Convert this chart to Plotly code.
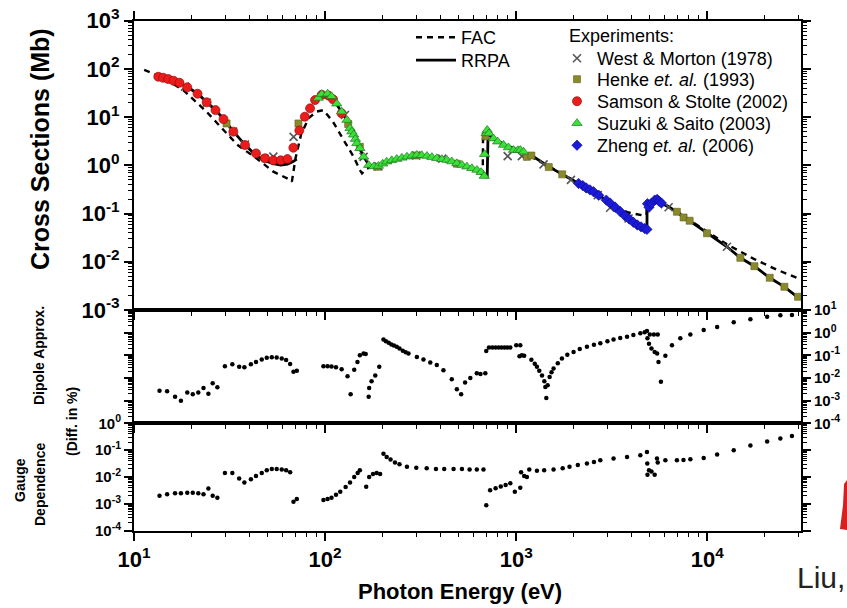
import plotly.graph_objects as go

# ---------------- data ----------------
# RRPA theory (solid line); None marks a break in the curve
rrpa_E = [13.4, 15, 17, 19, 21.5, 24, 26.7, 29.4, 33, 38, 43.5, 48.5, 53.6, 58.6, 63.5, 68, 71,
          None,
          92, 100, 110, 122, 130, 135, 141, 147, 152, 159, 169, 180, 190, 210, 237, 268, 302, 341,
          384, 434, 489, 552, 623, 690, 705, 712, 760, 858, 968, 1090, 1233, 1494, 1734, 2120,
          2540, 2960, 3870, 4830, 4840, 4950, 5460, 5750, 6930, 7510, 8080, 9960, 12660, 14880,
          17630, 21200, 25300, 30000]
rrpa_s = [70, 62, 53, 42, 31, 20.5, 14, 9.2, 5.1, 2.7, 1.6, 1.25, 1.08, 1.01, 1.06, 1.2, 1.35,
          None,
          26, 29.5, 24, 13, 8.7, 6, 4.3, 2.9, 2.2, 1.5, 1.05, 0.93, 0.95, 1.15, 1.33, 1.48, 1.6, 1.55,
          1.42, 1.3, 1.12, 0.95, 0.78, 0.58, 0.58, 4.6, 3.6, 2.64, 2.1, 1.8, 1.5, 0.92, 0.65, 0.42,
          0.28, 0.19, 0.085, 0.047, 0.19, 0.135, 0.197, 0.165, 0.109, 0.083, 0.071, 0.039, 0.0205, 0.0121,
          0.0081, 0.00466, 0.00303, 0.00178]

# FAC theory (dashed line)
fac_E = [11.3, 14, 18.1, 24, 29.4, 35, 43.7, 53.6, 65.6, 67, 70, 75, 82, 90, 98, 110, 125, 141,
         152, 156, 165, 175, 190, 210, 237, 268, 302, 341, 384, 434, 489, 552, 623, 668, 670,
         760, 860, 970, 1090, 1494, 2120, 3230, 3870, 4700, 4810, 4830, 4950, 5460, 6930, 8830,
         12670, 17500, 23000, 30000]
fac_s = [95, 68, 36.5, 12.9, 5.4, 2.6, 1.4, 0.74, 0.5, 0.46, 1.4, 4.5, 9.5, 13, 14, 8, 3.35, 1.5,
         0.8, 0.68, 0.85, 0.95, 0.95, 1.15, 1.33, 1.48, 1.6, 1.55, 1.42, 1.3, 1.12, 0.95, 0.78, 0.62, 3.5,
         3.5, 2.8, 2.2, 1.85, 0.93, 0.43, 0.138, 0.105, 0.09, 0.093, 0.19, 0.14, 0.197, 0.11, 0.058,
         0.023, 0.0115, 0.0069, 0.0045]

# Experiments
west_E = [18.5, 24, 33, 38.1, 53.6, 68.4, 127, 159, 190, 300, 410, 902, 1070, 1390, 1933,
          2670, 3100, 3870, 6270, 12660]
west_s = [43, 20, 5.0, 2.7, 1.52, 3.9, 11.1, 1.5, 0.95, 1.6, 1.38, 1.55, 1.55, 1.05, 0.50,
          0.242, 0.132, 0.079, 0.135, 0.0205]

henke_E = [30.5, 48.5, 72.5, 132, 152, 187, 300, 489, 690, 1137, 1200, 1480, 1740, 6930,
           7510, 8080, 9960, 14880, 17630, 21200, 25300, 29800]
henke_s = [7.4, 1.4, 7.4, 7.2, 2.43, 0.93, 1.6, 1.08, 4.0, 1.5, 1.6, 0.92, 0.65, 0.109,
           0.083, 0.071, 0.039, 0.0121, 0.0081, 0.00466, 0.00303, 0.00188]

samson_E = [13.4, 14.2, 15.1, 16.1, 17.3, 19.0, 21.5, 24.0, 26.7, 29.4, 33.1, 38.1, 43.5,
            48.5, 53.6, 58.6, 63.5, 68.2, 73.3, 78.3, 83.4, 88.6, 96, 104, 110, 122]
samson_s = [68.9, 65.6, 61.7, 56.9, 51.7, 41.5, 30.6, 20.3, 14.0, 9.1, 5.0, 2.64, 1.77,
            1.40, 1.27, 1.27, 1.35, 2.32, 5.3, 10.2, 15.2, 22.6, 29, 28, 23.4, 12.0]

suzuki_E = [92, 96, 103, 108, 115, 122, 130, 135, 138, 141, 144, 146.5, 152, 159, 169, 180,
            190, 200, 210, 223, 237, 252, 268, 285, 302, 320, 341, 362, 384, 408, 434, 460,
            489, 520, 552, 586, 623, 655, 680, 683, 697, 705, 720, 760, 800, 858, 910, 968,
            1020, 1050, 1091]
suzuki_s = [25, 30, 30.5, 27, 19, 13, 8.7, 5.9, 5.0, 4.3, 3.5, 2.86, 2.25, 1.51, 1.01, 0.95,
            0.97, 1.08, 1.19, 1.27, 1.35, 1.43, 1.51, 1.58, 1.64, 1.62, 1.56, 1.48, 1.40, 1.34, 1.29, 1.2,
            1.10, 1.02, 0.94, 0.87, 0.80, 0.72, 0.60, 1.7, 4.6, 5.4, 4.6, 3.6, 3.1, 2.64, 2.35, 2.07,
            2.05, 2.07, 1.92]

zheng_E = [2120, 2230, 2323, 2430, 2540, 2700, 2960, 3100, 3300, 3500, 3700, 3900, 4100,
           4300, 4500, 4700, 4830, 4860, 4950, 5100, 5300, 5460, 5600, 5750]
zheng_s = [0.42, 0.38, 0.34, 0.31, 0.283, 0.24, 0.19, 0.165, 0.135, 0.11, 0.09, 0.077, 0.066,
           0.058, 0.053, 0.049, 0.047, 0.16, 0.135, 0.163, 0.19, 0.197, 0.18, 0.165]

# Dipole approximation (Diff. in %)
dip_E = [13.6, 14.9, 16.4, 17.6, 19.0, 20.3, 21.7, 23.1, 24.5, 25.8, 27.3, 29.9, 32.7, 35.5,
         37.8, 40.9, 43.5, 46.6, 49.5, 52.6, 55.8, 59.3, 62.5, 65.6, 68.3, 71.1,
         98, 103, 108, 114, 122, 131, 136, 142, 147.6, 152, 159, 163, 169, 170, 175, 183, 192,
         202, 208, 215, 222, 229, 237, 245, 255, 264, 273, 302, 327, 355, 384, 416, 460, 489,
         515, 540, 575, 622, 650, 689,
         697, 720, 750, 780, 810, 840, 870, 900, 931, 1000, 1050,
         1040, 1070, 1100, 1200, 1250, 1283, 1320, 1364, 1403, 1420, 1437, 1460, 1495, 1530,
         1568, 1650, 1734, 1850, 1995, 2150, 2344, 2550, 2754, 3000, 3230, 3500, 3800, 4100,
         4460, 4700, 4830, 4860, 4950, 5100, 5300, 5460, 5550, 5715, 5000, 5250, 5500,
         6030, 6530, 7220, 8150, 9570, 11250, 13740, 16800, 20550, 24100, 27700]
dip_v = [2.7e-3, 2.6e-3, 1.5e-3, 9.8e-4, 2.3e-3, 1.9e-3, 2.3e-3, 3.6e-3, 2.0e-3, 5.8e-3, 3.9e-3,
         0.033, 0.040, 0.031, 0.030, 0.040, 0.051, 0.066, 0.078, 0.083, 0.081, 0.072, 0.062, 0.041,
         0.019, 0.021,
         0.033, 0.033, 0.032, 0.030, 0.024, 0.012, 0.0019, 0.023, 0.051, 0.10, 0.12, 0.115, 0.0015,
         0.0036, 0.0072, 0.013, 0.031,
         0.50, 0.42, 0.355, 0.30, 0.27, 0.24, 0.20, 0.16, 0.135, 0.12, 0.085, 0.066, 0.048, 0.037,
         0.022, 0.0089, 0.0032, 0.0019, 0.0063, 0.010, 0.016, 0.015, 0.016,
         0.155, 0.22, 0.22, 0.22, 0.22, 0.22, 0.22, 0.22, 0.22, 0.28, 0.28,
         0.091, 0.10, 0.095, 0.063, 0.042, 0.031, 0.021, 0.013, 0.0072, 0.004, 0.0013, 0.0048, 0.011,
         0.018, 0.026, 0.045, 0.072, 0.105, 0.14, 0.19, 0.24, 0.29, 0.34, 0.42, 0.50, 0.58, 0.66,
         0.79, 0.93, 1.05, 1.17, 0.56, 0.32, 0.20, 0.14, 0.12, 0.051, 0.0068, 0.83, 0.83, 0.83,
         0.095, 0.28, 0.56, 0.83, 1.3, 1.8, 2.9, 3.9, 5.0, 5.8, 6.0]

# Gauge dependence (Diff. in %)
gau_E = [13.6, 14.9, 16.4, 17.6, 19.0, 20.3, 21.7, 23.1, 24.5, 25.8, 27.3, 29.9, 32.7, 35.5,
         37.8, 40.9, 43.5, 46.6, 49.5, 52.6, 55.8, 59.3, 62.5, 65.6, 68.3, 71.1,
         98, 103, 108, 114, 120, 128, 135, 142, 148, 152, 164, 170, 178, 186, 194,
         202, 210, 220, 232, 245, 268, 300, 340, 380, 420, 470, 520, 570, 622, 674,
         697, 730, 780, 830, 880, 931, 983, 1050, 1060, 1100, 1137, 1170, 1283, 1400, 1568, 1750,
         1900, 2100, 2344, 2550, 2754, 3230, 3800, 4460, 4830, 4850, 4860, 4950, 5100, 5300, 5450,
         5500, 6030, 6930, 7500, 8150, 9570, 11250, 13740, 16800, 20550, 24100, 27700]
gau_v = [2.0e-3, 2.3e-3, 2.5e-3, 2.5e-3, 2.6e-3, 2.6e-3, 2.5e-3, 2.3e-3, 3.7e-3, 2.0e-3, 1.7e-3,
         0.014, 0.014, 8.7e-3, 6.2e-3, 8.3e-3, 0.011, 0.014, 0.018, 0.020, 0.020, 0.019, 0.018, 0.015,
         1.2e-3, 1.5e-3,
         1.4e-3, 1.5e-3, 1.7e-3, 2.2e-3, 2.8e-3, 4.2e-3, 6.3e-3, 0.010, 0.014, 0.018, 4.3e-3, 0.010,
         0.013, 0.014, 0.013,
         0.074, 0.056, 0.045, 0.035, 0.030, 0.024, 0.022, 0.021, 0.020, 0.020, 0.020, 0.020, 0.019,
         0.019, 0.019,
         8.9e-4, 3.2e-3, 3.8e-3, 4.4e-3, 5.0e-3, 5.8e-3, 2.8e-3, 4.0e-3, 0.015, 0.011, 0.010, 0.019,
         0.017, 0.018, 0.019, 0.021, 0.024, 0.028, 0.032, 0.036, 0.042, 0.049, 0.056, 0.065, 0.085,
         0.032, 0.012, 0.018, 0.016, 0.012, 0.049, 0.035, 0.042, 0.042, 0.043, 0.046, 0.051, 0.069,
         0.10, 0.15, 0.21, 0.27, 0.34]

x_tickvals = [10, 100, 1000, 10000]
x_ticktext = ["10<sup>1</sup>", "10<sup>2</sup>", "10<sup>3</sup>", "10<sup>4</sup>"]
top_tickvals = [1e-3, 1e-2, 1e-1, 1, 10, 100, 1000]
top_ticktext = ["10<sup>-3</sup>", "10<sup>-2</sup>", "10<sup>-1</sup>", "10<sup>0</sup>",
                "10<sup>1</sup>", "10<sup>2</sup>", "10<sup>3</sup>"]
mid_tickvals = [1e-4, 1e-3, 1e-2, 1e-1, 1, 10]
mid_ticktext = ["10<sup>-4</sup>", "10<sup>-3</sup>", "10<sup>-2</sup>", "10<sup>-1</sup>",
                "10<sup>0</sup>", "10<sup>1</sup>"]
bot_tickvals = [1e-4, 1e-3, 1e-2, 1e-1, 1]
bot_ticktext = ["10<sup>-4</sup>", "10<sup>-3</sup>", "10<sup>-2</sup>", "10<sup>-1</sup>",
                "10<sup>0</sup>"]

# ---------------- figure ----------------
FONT = "Liberation Sans, Arial, sans-serif"
W, H = 847, 608
fig = go.Figure()

fig.add_trace(go.Scatter(x=fac_E, y=fac_s, mode="lines", name="FAC", legend="legend",
                         line=dict(color="black", width=2.4, dash="6px,5px"), xaxis="x", yaxis="y"))
fig.add_trace(go.Scatter(x=rrpa_E, y=rrpa_s, mode="lines", name="RRPA", legend="legend2",
                         connectgaps=False,
                         line=dict(color="black", width=2.8), xaxis="x", yaxis="y"))

fig.add_trace(go.Scatter(x=west_E, y=west_s, mode="markers", name="West & Morton (1978)",
                         legend="legend3", xaxis="x", yaxis="y",
                         marker=dict(symbol="x-thin", size=8, color="#555555",
                                     line=dict(color="#555555", width=1.6))))
fig.add_trace(go.Scatter(x=henke_E, y=henke_s, mode="markers", name="Henke <i>et. al.</i> (1993)",
                         legend="legend4", xaxis="x", yaxis="y",
                         marker=dict(symbol="square", size=7, color="#8a8a2c",
                                     line=dict(color="#5e5e1c", width=0.6))))
fig.add_trace(go.Scatter(x=samson_E, y=samson_s, mode="markers", name="Samson & Stolte (2002)",
                         legend="legend5", xaxis="x", yaxis="y",
                         marker=dict(symbol="circle", size=9, color="#ec1c1c",
                                     line=dict(color="#9a0c0c", width=0.7))))
fig.add_trace(go.Scatter(x=suzuki_E, y=suzuki_s, mode="markers", name="Suzuki & Saito (2003)",
                         legend="legend6", xaxis="x", yaxis="y",
                         marker=dict(symbol="triangle-up", size=9, color="#3be03b",
                                     line=dict(color="#1c7a1c", width=0.7))))
fig.add_trace(go.Scatter(x=zheng_E, y=zheng_s, mode="markers", name="Zheng <i>et. al.</i> (2006)",
                         legend="legend7", xaxis="x", yaxis="y",
                         marker=dict(symbol="diamond", size=8, color="#1a1ad8",
                                     line=dict(color="#0c0c80", width=0.6))))

fig.add_trace(go.Scatter(x=dip_E, y=dip_v, mode="markers", showlegend=False, xaxis="x2", yaxis="y2",
                         marker=dict(symbol="circle", size=4.5, color="black")))
fig.add_trace(go.Scatter(x=gau_E, y=gau_v, mode="markers", showlegend=False, xaxis="x3", yaxis="y3",
                         marker=dict(symbol="circle", size=4.5, color="black")))

XDOM = [134 / W, 801 / W]
XR = [1, 4.49]


def minor_vals(lo, hi):
    return [m * 10 ** e for e in range(lo, hi) for m in range(2, 10)]


common_x = dict(type="log", range=XR, domain=XDOM, showgrid=False, zeroline=False,
                automargin=False,
                linecolor="black", linewidth=2, ticks="outside", ticklen=8, tickwidth=1.6,
                tickcolor="black", tickvals=x_tickvals,
                minor=dict(ticks="outside", ticklen=4, tickwidth=1.2, tickcolor="black",
                           tickvals=minor_vals(1, 5), showgrid=False))
common_y = dict(type="log", showgrid=False, zeroline=False, linecolor="black", linewidth=2,
                automargin=False,
                ticks="outside", ticklen=8, tickwidth=1.6, tickcolor="black", mirror="ticks")


def leg(xpx, ypx, iw=30):
    return dict(x=xpx / W, y=1 - ypx / H, xanchor="left", yanchor="top",
                bgcolor="rgba(0,0,0,0)", font=dict(size=18), itemwidth=iw)


fig.update_layout(
    width=W, height=H, margin=dict(l=0, r=0, t=0, b=0, autoexpand=False),
    paper_bgcolor="white", plot_bgcolor="white",
    font=dict(family=FONT, color="black"),
    xaxis=dict(**common_x, anchor="y", mirror="ticks", showticklabels=False),
    xaxis2=dict(**common_x, anchor="y2", matches="x", mirror=True, showticklabels=False),
    xaxis3=dict(**common_x, anchor="y3", matches="x", mirror=True, showticklabels=True,
                ticktext=x_ticktext, tickfont=dict(size=22, weight="bold")),
    yaxis=dict(**common_y, domain=[1 - 310 / H, 1 - 20.7 / H], anchor="x", range=[-3, 3],
               tickvals=top_tickvals, ticktext=top_ticktext, tickfont=dict(size=22, weight="bold"),
               minor=dict(ticks="outside", ticklen=4, tickwidth=1.2, tickcolor="black",
                          tickvals=minor_vals(-3, 3))),
    yaxis2=dict(**common_y, domain=[1 - 423.3 / H, 1 - 310 / H], anchor="x2", range=[-4, 1],
                side="right", tickvals=mid_tickvals, ticktext=mid_ticktext,
                tickfont=dict(size=15, weight="bold"),
                minor=dict(ticks="outside", ticklen=4, tickwidth=1.2, tickcolor="black",
                           tickvals=minor_vals(-4, 1))),
    yaxis3=dict(**common_y, domain=[1 - 530.7 / H, 1 - 423.3 / H], anchor="x3", range=[-4, 0],
                side="left", tickvals=bot_tickvals, ticktext=bot_ticktext,
                tickfont=dict(size=15, weight="bold"),
                minor=dict(ticks="outside", ticklen=4, tickwidth=1.2, tickcolor="black",
                           tickvals=minor_vals(-4, 0))),
    legend=leg(411, 19, 40),
    legend2=leg(411, 42, 40),
    legend3=leg(557, 40),
    legend4=leg(557, 61),
    legend5=leg(557, 83),
    legend6=leg(557, 105),
    legend7=leg(557, 127),
)

ann = [
    dict(text="Cross Sections (Mb)", x=40 / W, y=1 - 149 / H, size=25),
    dict(text="Dipole Approx.", x=39 / W, y=1 - 356 / H, size=14),
    dict(text="(Diff. in %)", x=72 / W, y=1 - 422 / H, size=14),
    dict(text="Gauge", x=20 / W, y=1 - 480 / H, size=14),
    dict(text="Dependence", x=40 / W, y=1 - 485 / H, size=14),
]
for a in ann:
    fig.add_annotation(text=a["text"], x=a["x"], y=a["y"], xref="paper", yref="paper",
                       showarrow=False, textangle=-90, xanchor="center", yanchor="middle",
                       font=dict(size=a["size"], weight="bold", family=FONT))
fig.add_annotation(text="Experiments:", x=567 / W, y=1 - 36 / H, xref="paper", yref="paper",
                   showarrow=False, xanchor="left", yanchor="middle",
                   font=dict(size=18, family=FONT))
fig.add_annotation(text="Photon Energy (eV)", x=460 / W, y=1 - 591 / H, xref="paper", yref="paper",
                   showarrow=False, xanchor="center", yanchor="middle",
                   font=dict(size=22, weight="bold", family=FONT))
fig.add_annotation(text="Liu,", x=1.0, y=1 - 577 / H, xref="paper", yref="paper",
                   showarrow=False, xanchor="right", yanchor="middle",
                   font=dict(size=30, color="#222222", family=FONT))

# cropped red decoration at the right edge of the slide
fig.add_shape(type="path", xref="paper", yref="paper", layer="above",
              path="M {:.4f} {:.4f} L {:.4f} {:.4f} L 1 {:.4f} L 1 {:.4f} L {:.4f} {:.4f} L {:.4f} {:.4f} Z".format(
                  844 / W, 1 - 484 / H, 847 / W, 1 - 480 / H, 1 - 530 / H, 1 - 530 / H,
                  840 / W, 1 - 529 / H, 843 / W, 1 - 505 / H),
              fillcolor="#d42020", line=dict(width=0))

fig.write_html("out.html")
